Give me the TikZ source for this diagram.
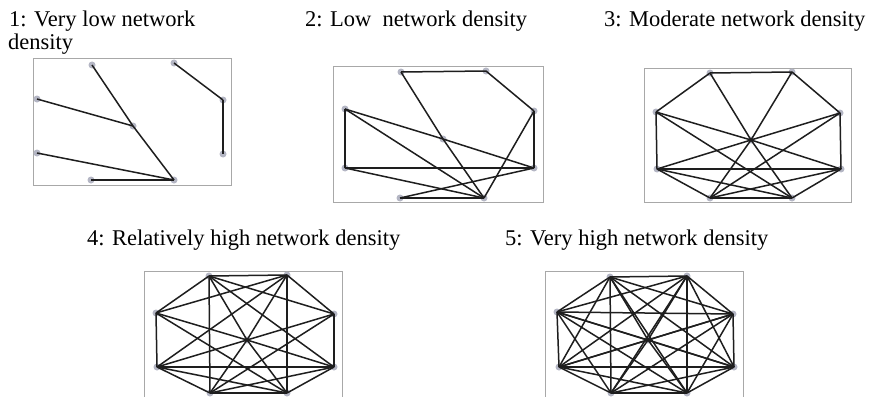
\documentclass[tikz,border=0pt]{standalone}
\usepackage{fontspec}
\setmainfont{Liberation Serif}
\definecolor{edgeblack}{HTML}{1E1E1E}
\definecolor{dotgray}{HTML}{B4B6C4}
\definecolor{framegray}{HTML}{A8A8A8}
\begin{document}
\begin{tikzpicture}[x=1pt,y=-1pt,
  vertex/.style={circle,fill=dotgray,inner sep=0pt,minimum size=7pt},
  link/.style={draw=edgeblack,line width=1.5pt},
  panelframe/.style={draw=framegray,line width=0.9pt},
  caption/.style={font=\fontsize{22.5}{22}\selectfont,anchor=base west,inner sep=0pt}]
\useasboundingbox[fill=white] (0,0) rectangle (872,396);

% ---------- captions ----------
\node[caption] (cap1a) at (9,27) {1: Very low network};
\node[caption] (cap1b) at (8,49) {density};
\node[caption] (cap2) at (305,27) {2: Low\ \ network density};
\node[caption] (cap3) at (604,27) {3: Moderate network density};
\node[caption] (cap4) at (87,245) {4: Relatively high network density};
\node[caption] (cap5) at (505,245) {5: Very high network density};

% ---------- frames ----------
\draw[panelframe] (33,58) rectangle (231,185);
\draw[panelframe] (333,66) rectangle (543,202);
\draw[panelframe] (644,68) rectangle (851,202);
\draw[panelframe] (144,271) rectangle (342,410);
\draw[panelframe] (545,271) rectangle (743,410);

% ---------- vertices: octagon of eight plus a centre ----------
\foreach \n/\x/\y in {tl/92/65, tr/174/63, lu/37/99, ru/223/100, c/133/126,
                      ll/37/153, rl/223/154, bl/91/180, br/174/180}
  \node[vertex] (p1\n) at (\x,\y) {};
\foreach \n/\x/\y in {tl/401/72, tr/486/71, lu/345/109, ru/534/111, c/443/139,
                      ll/345/168, rl/534/168, bl/400/198, br/484/198}
  \node[vertex] (p2\n) at (\x,\y) {};
\foreach \n/\x/\y in {tl/710/73, tr/792/72, lu/656/112, ru/840/113, c/751/140,
                      ll/657/169, rl/841/169, bl/710/198, br/792/198}
  \node[vertex] (p3\n) at (\x,\y) {};
\foreach \n/\x/\y in {tl/209/276, tr/287/275, lu/156/313, ru/334/314, c/247/340,
                      ll/157/367, rl/334/367, bl/210/393, br/287/393}
  \node[vertex] (p4\n) at (\x,\y) {};
\foreach \n/\x/\y in {tl/610/277, tr/687/276, lu/557/312, ru/733/314, c/648/340,
                      ll/559/367, rl/734/367, bl/611/393, br/687/393}
  \node[vertex] (p5\n) at (\x,\y) {};

% ---------- edges ----------
% 1: very low density
\foreach \a/\b in {tl/c, c/br, lu/c, ll/br, bl/br, tr/ru, ru/rl}
  \draw[link] (p1\a.center) -- (p1\b.center);
% 2: low density
\foreach \a/\b in {tl/tr, tr/ru, tl/c, c/br, lu/c, c/rl, lu/ll, lu/br,
                   ll/rl, ll/br, ru/br, ru/rl, bl/br, bl/rl}
  \draw[link] (p2\a.center) -- (p2\b.center);
% 3: moderate density
\foreach \a/\b in {tl/tr, tl/lu, tr/ru, tl/c, c/br, tr/c, c/bl, lu/c, c/rl,
                   ru/c, c/ll, lu/ll, ru/rl, ll/rl, bl/br, ll/bl, ll/br,
                   rl/bl, rl/br, lu/br, ru/bl}
  \draw[link] (p3\a.center) -- (p3\b.center);
% 4: relatively high density
\foreach \a/\b in {tl/tr, tr/ru, ru/rl, rl/br, br/bl, bl/ll, ll/lu, lu/tl,
                   c/tl, c/tr, c/ru, c/rl, c/br, c/bl, c/ll, c/lu,
                   tl/ru, rl/bl, br/ll, lu/tr,
                   tl/rl, tr/br, ru/bl, rl/ll, br/lu, bl/tl, ll/tr}
  \draw[link] (p4\a.center) -- (p4\b.center);
% 5: very high density, every pair joined
\foreach \a [count=\i] in {tl,tr,ru,rl,br,bl,ll,lu,c}
  \foreach \b [count=\j] in {tl,tr,ru,rl,br,bl,ll,lu,c}
    {\ifnum\j>\i \draw[link] (p5\a.center) -- (p5\b.center);\fi}
\end{tikzpicture}
\end{document}
